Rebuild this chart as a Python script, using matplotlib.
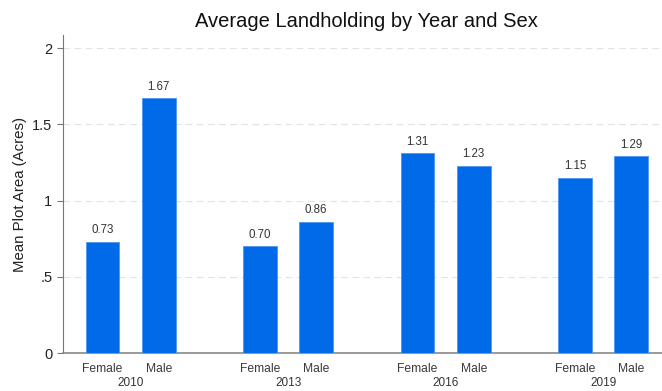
import matplotlib.pyplot as plt
from matplotlib.transforms import blended_transform_factory

plt.rcParams['font.family'] = ['Liberation Sans', 'DejaVu Sans']

# data
years = ['2010', '2013', '2016', '2019']
sexes = ['Female', 'Male']
female = [0.73, 0.70, 1.31, 1.15]
male = [1.67, 0.86, 1.23, 1.29]

gap = 2.81  # distance between year groups, in bar units
xf = [i * gap for i in range(len(years))]
xm = [x + 1 for x in xf]

fig = plt.figure(figsize=(6.62, 3.91), dpi=100)
ax = fig.add_axes([0.095, 0.097, 0.905, 0.813])

blue = '#006ae8'
b1 = ax.bar(xf, female, width=0.6, color=blue, edgecolor='#4d95f0', linewidth=0.6, zorder=3)
b2 = ax.bar(xm, male, width=0.6, color=blue, edgecolor='#4d95f0', linewidth=0.6, zorder=3)
for b in (b1, b2):
    ax.bar_label(b, fmt='%.2f', padding=4, fontsize=8.3, color='#333333')

ax.set_xlim(xf[0] - 0.71, xm[-1] + 0.55)
ax.set_ylim(0, 2.085)
ax.set_yticks([0, 0.5, 1, 1.5, 2])
ax.set_yticklabels(['0', '.5', '1', '1.5', '2'], fontsize=10.5, color='#222222')

ticks = []
labels = []
for a, b in zip(xf, xm):
    ticks += [a, b]
    labels += sexes
ax.set_xticks(ticks)
ax.set_xticklabels(labels, fontsize=8.7, color='#3a3a3a')
ax.tick_params(axis='x', length=0, pad=7)
ax.tick_params(axis='y', length=4, color='#777777', width=0.8)

# year labels under each pair
trans = blended_transform_factory(ax.transData, ax.transAxes)
for a, y in zip(xf, years):
    ax.annotate(y, xy=(a + 0.5, 0), xycoords=trans, xytext=(0, -21.5),
                textcoords='offset points', ha='center', va='center',
                fontsize=8.5, color='#333333')

ax.grid(axis='y', color='#e2e2e2', linestyle=(0, (6, 4)), linewidth=0.8, zorder=0)
ax.set_axisbelow(True)
for s in ['top', 'right']:
    ax.spines[s].set_visible(False)
ax.spines['left'].set_color('#777777')
ax.spines['bottom'].set_color('#888888')
ax.spines['bottom'].set_linewidth(1.2)

ax.set_ylabel('Mean Plot Area (Acres)', fontsize=10.8, color='#222222', labelpad=4)
fig.text(0.553, 0.946, 'Average Landholding by Year and Sex', ha='center', va='center',
         fontsize=14.5, color='#111111')

fig.savefig('out.png', dpi=100)
